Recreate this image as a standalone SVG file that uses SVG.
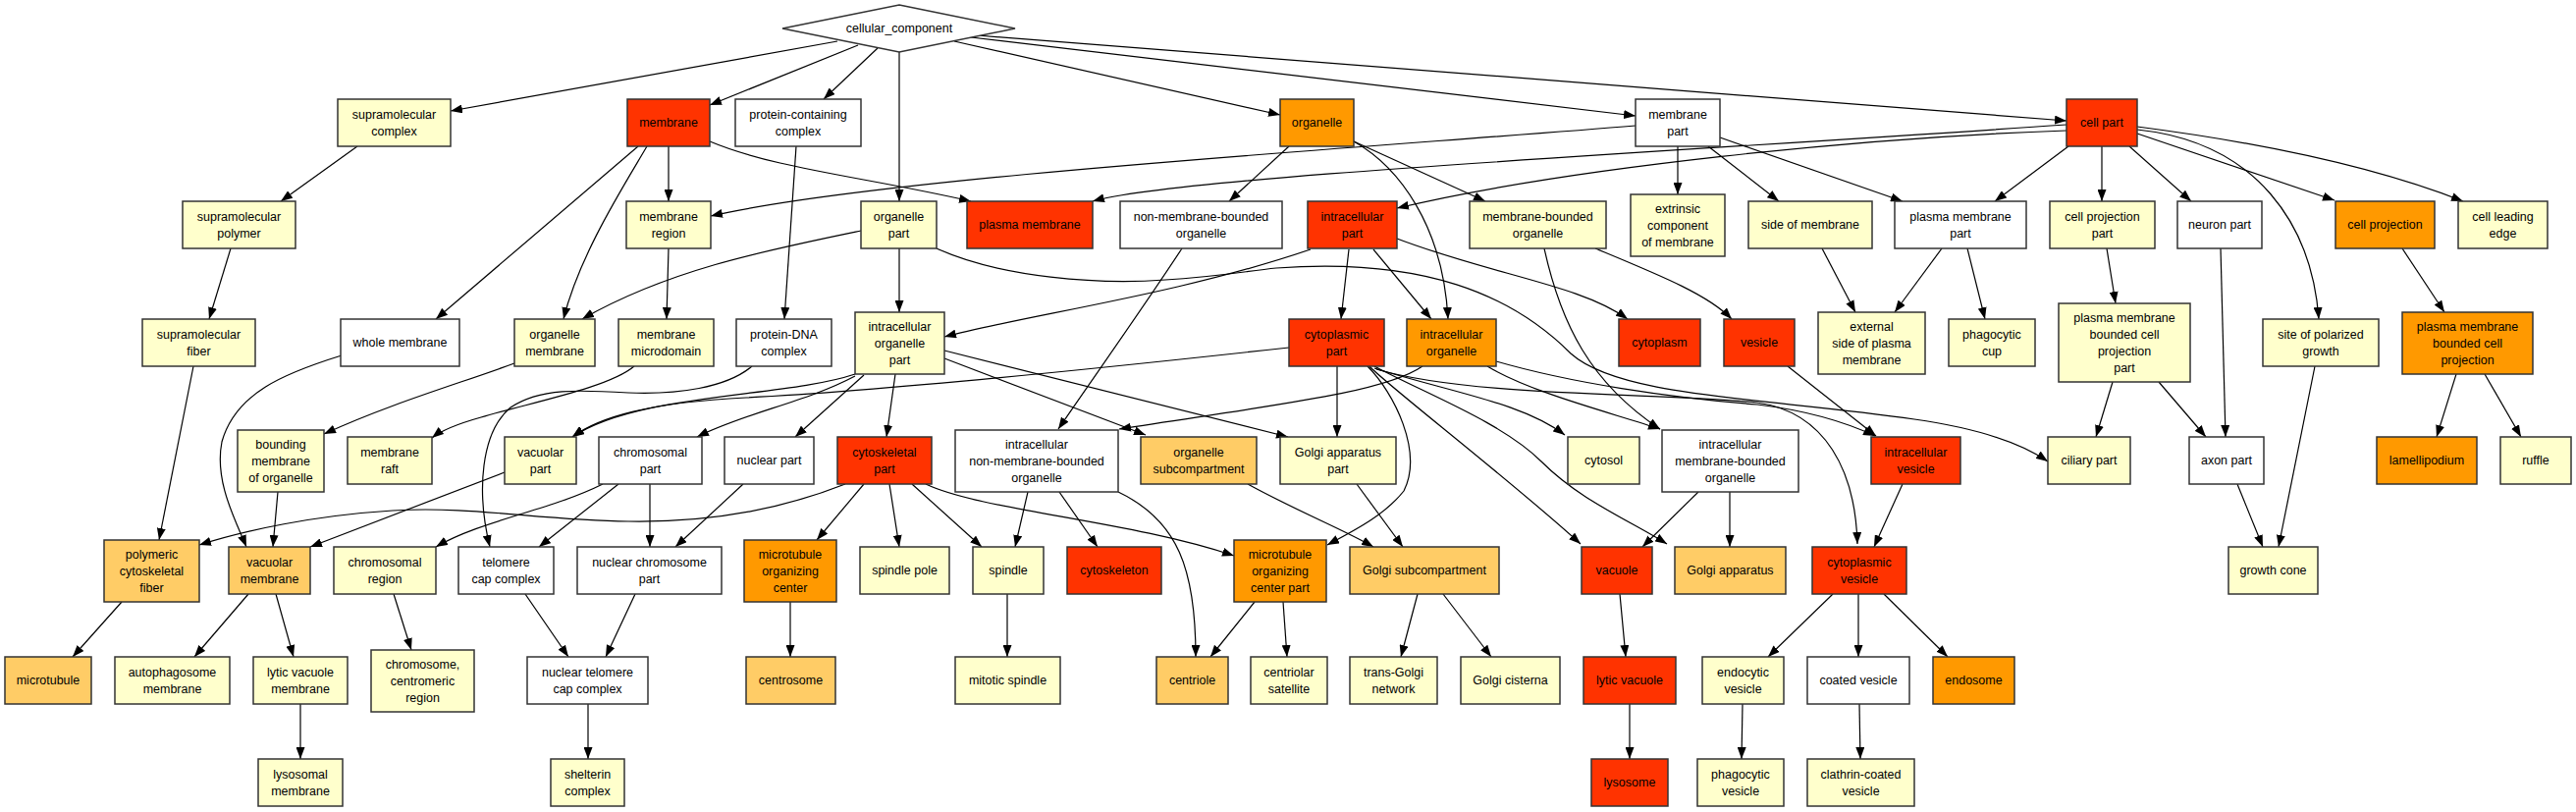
<svg xmlns="http://www.w3.org/2000/svg" width="2624" height="827" viewBox="0 0 2624 827">
<style>
.e path{fill:none;stroke:#000;stroke-width:1.2;marker-end:url(#a)}
.n rect,.n polygon{stroke:#333;stroke-width:1.5}
.r{fill:#FF3300}.o{fill:#FF9900}.lo{fill:#FFCC66}.y{fill:#FFFFCC}.w{fill:#FFFFFF}
text{font-family:"Liberation Sans",Arial,Helvetica,sans-serif;font-size:12.5px;text-anchor:middle;fill:#000}
</style>
<defs>
<marker id="a" markerWidth="13" markerHeight="9" refX="12" refY="4.5" orient="auto" markerUnits="userSpaceOnUse"><path d="M0,0 L12,4.5 L0,9 z" fill="#000"/></marker>
</defs>
<g id="edges" class="e">
<path d="M853,42 L459,113"/>
<path d="M874,46 L723,107"/>
<path d="M894,49 L839,101"/>
<path d="M916,53 L916,205"/>
<path d="M972,42 L1304,117"/>
<path d="M989,38 L1666,118"/>
<path d="M995,36 L2105,123"/>
<path d="M364,149 L286,205"/>
<path d="M235,253 L213,325"/>
<path d="M197,373 L162,550"/>
<path d="M681,149 L681,205"/>
<path d="M650,149 L444,325"/>
<path d="M659,149 C635,190 590,260 574,325"/>
<path d="M723,144 C790,172 880,180 989,205"/>
<path d="M1666,128 C1400,150 900,180 724,220"/>
<path d="M2105,127 C1700,155 1200,180 1113,205"/>
<path d="M2105,133 C1900,140 1600,170 1423,212"/>
<path d="M1709,149 L1709,198"/>
<path d="M1740,149 L1812,205"/>
<path d="M1752,140 L1938,205"/>
<path d="M2107,149 L2032,205"/>
<path d="M2141,149 L2141,205"/>
<path d="M2169,149 L2232,205"/>
<path d="M2177,136 L2378,204"/>
<path d="M2177,129 C2300,145 2420,170 2509,205"/>
<path d="M2177,132 C2300,145 2355,230 2362,325"/>
<path d="M1313,149 L1252,205"/>
<path d="M1379,144 L1513,205"/>
<path d="M1379,144 C1425,170 1470,230 1475,325"/>
<path d="M1335,254 C1200,300 1050,320 962,343"/>
<path d="M1374,254 L1366,325"/>
<path d="M1399,254 L1458,325"/>
<path d="M1423,243 C1520,280 1610,290 1658,325"/>
<path d="M1625,253 C1690,280 1740,300 1764,325"/>
<path d="M1573,253 C1590,330 1620,390 1691,437"/>
<path d="M1856,253 L1890,318"/>
<path d="M1978,253 L1930,318"/>
<path d="M2004,253 L2022,325"/>
<path d="M2146,253 L2155,309"/>
<path d="M2447,253 L2490,318"/>
<path d="M2152,389 L2135,445"/>
<path d="M2199,389 L2247,445"/>
<path d="M2262,253 L2267,445"/>
<path d="M2358,373 L2321,557"/>
<path d="M2279,493 L2305,557"/>
<path d="M2502,381 L2482,445"/>
<path d="M2531,381 L2568,445"/>
<path d="M954,253 C1020,283 1120,290 1187,285 C1240,282 1270,276 1300,273 C1450,262 1540,300 1600,360 C1650,405 1800,405 1950,427 C2020,437 2060,452 2086,470"/>
<path d="M877,235 C780,255 680,275 593,325"/>
<path d="M916,253 L916,318"/>
<path d="M811,149 L799,325"/>
<path d="M681,253 L679,325"/>
<path d="M871,381 C800,405 650,400 583,445"/>
<path d="M1313,354 C1150,372 900,398 760,405 C660,410 610,425 583,445"/>
<path d="M871,383 C820,410 760,420 710,445"/>
<path d="M880,382 L810,445"/>
<path d="M912,381 L903,445"/>
<path d="M962,365 L1167,443"/>
<path d="M962,357 L1312,445"/>
<path d="M1204,253 C1160,320 1110,390 1078,437"/>
<path d="M1449,373 C1410,400 1300,412 1140,437"/>
<path d="M1515,373 C1560,400 1640,420 1691,437"/>
<path d="M1524,368 C1600,390 1700,405 1790,412 C1840,418 1880,430 1910,444"/>
<path d="M1821,373 L1911,444"/>
<path d="M1362,373 L1362,445"/>
<path d="M1400,375 C1480,400 1550,410 1594,443"/>
<path d="M1395,373 C1410,390 1540,490 1610,554"/>
<path d="M1400,373 C1450,400 1530,430 1570,470 C1610,510 1660,530 1698,554"/>
<path d="M1393,373 C1420,400 1450,460 1430,500 C1410,525 1380,540 1352,555"/>
<path d="M1402,376 C1500,405 1700,400 1790,410 C1860,420 1890,480 1892,554"/>
<path d="M1271,493 C1320,520 1370,540 1399,557"/>
<path d="M1382,493 L1429,557"/>
<path d="M1444,605 L1427,669"/>
<path d="M1470,605 L1519,669"/>
<path d="M1730,501 L1673,557"/>
<path d="M1762,501 L1762,557"/>
<path d="M1938,493 L1909,557"/>
<path d="M1867,605 L1801,669"/>
<path d="M1893,605 L1893,669"/>
<path d="M1919,605 L1984,669"/>
<path d="M1775,717 L1774,773"/>
<path d="M1894,717 L1895,773"/>
<path d="M1650,605 L1656,669"/>
<path d="M1660,717 L1660,773"/>
<path d="M1307,613 L1311,669"/>
<path d="M1278,613 L1233,669"/>
<path d="M1139,501 C1200,530 1218,580 1218,669"/>
<path d="M1047,501 L1034,557"/>
<path d="M1079,501 L1118,557"/>
<path d="M880,493 L832,550"/>
<path d="M906,493 L916,557"/>
<path d="M929,493 L1000,557"/>
<path d="M943,493 C1000,520 1150,530 1257,566"/>
<path d="M861,493 C780,525 700,532 640,531 C550,530 480,515 400,520 C320,525 250,540 203,555"/>
<path d="M805,613 L805,669"/>
<path d="M1026,605 L1026,669"/>
<path d="M614,493 C560,520 490,530 444,557"/>
<path d="M630,493 L549,557"/>
<path d="M662,493 L662,557"/>
<path d="M757,493 L688,557"/>
<path d="M514,481 L316,557"/>
<path d="M283,501 L278,557"/>
<path d="M348,362 C290,380 240,400 226,450 C218,490 240,530 251,557"/>
<path d="M524,370 C470,390 400,410 330,442"/>
<path d="M646,373 C620,395 540,410 490,425 C465,432 450,438 440,446"/>
<path d="M766,373 C740,395 690,402 640,400 C590,397 550,395 520,415 C490,440 485,500 499,557"/>
<path d="M401,605 L419,662"/>
<path d="M535,605 L579,669"/>
<path d="M647,605 L617,669"/>
<path d="M599,717 L599,773"/>
<path d="M124,613 L74,669"/>
<path d="M253,605 L198,669"/>
<path d="M281,605 L299,669"/>
<path d="M306,717 L306,773"/>
</g>
<g class="n">
<g id="cellular_component"><polygon class="w" points="916,5 1034,29 916,53 797,29"/><text x="916" y="33.3">cellular_component</text></g>
<g id="supramolecular_complex"><rect class="y" x="344" y="101" width="115" height="48"/><text><tspan x="401.5" y="120.8">supramolecular</tspan><tspan x="401.5" y="137.8">complex</tspan></text></g>
<g id="membrane"><rect class="r" x="639" y="101" width="84" height="48"/><text x="681" y="129.3">membrane</text></g>
<g id="protein_containing_complex"><rect class="w" x="749" y="101" width="128" height="48"/><text><tspan x="813" y="120.8">protein-containing</tspan><tspan x="813" y="137.8">complex</tspan></text></g>
<g id="organelle"><rect class="o" x="1304" y="101" width="75" height="48"/><text x="1341.5" y="129.3">organelle</text></g>
<g id="membrane_part"><rect class="w" x="1666" y="101" width="86" height="48"/><text><tspan x="1709" y="120.8">membrane</tspan><tspan x="1709" y="137.8">part</tspan></text></g>
<g id="cell_part"><rect class="r" x="2105" y="101" width="72" height="48"/><text x="2141" y="129.3">cell part</text></g>
<g id="supramolecular_polymer"><rect class="y" x="186" y="205" width="115" height="48"/><text><tspan x="243.5" y="224.8">supramolecular</tspan><tspan x="243.5" y="241.8">polymer</tspan></text></g>
<g id="membrane_region"><rect class="y" x="638" y="205" width="86" height="48"/><text><tspan x="681" y="224.8">membrane</tspan><tspan x="681" y="241.8">region</tspan></text></g>
<g id="organelle_part"><rect class="y" x="877" y="205" width="77" height="48"/><text><tspan x="915.5" y="224.8">organelle</tspan><tspan x="915.5" y="241.8">part</tspan></text></g>
<g id="plasma_membrane"><rect class="r" x="985" y="205" width="128" height="48"/><text x="1049" y="233.3">plasma membrane</text></g>
<g id="non_membrane_bounded_organelle"><rect class="w" x="1141" y="205" width="165" height="48"/><text><tspan x="1223.5" y="224.8">non-membrane-bounded</tspan><tspan x="1223.5" y="241.8">organelle</tspan></text></g>
<g id="intracellular_part"><rect class="r" x="1332" y="205" width="91" height="48"/><text><tspan x="1377.5" y="224.8">intracellular</tspan><tspan x="1377.5" y="241.8">part</tspan></text></g>
<g id="membrane_bounded_organelle"><rect class="y" x="1497" y="205" width="139" height="48"/><text><tspan x="1566.5" y="224.8">membrane-bounded</tspan><tspan x="1566.5" y="241.8">organelle</tspan></text></g>
<g id="extrinsic_component_of_membrane"><rect class="y" x="1661" y="198" width="96" height="63"/><text><tspan x="1709" y="216.8">extrinsic</tspan><tspan x="1709" y="233.8">component</tspan><tspan x="1709" y="250.8">of membrane</tspan></text></g>
<g id="side_of_membrane"><rect class="y" x="1781" y="205" width="126" height="48"/><text x="1844" y="233.3">side of membrane</text></g>
<g id="plasma_membrane_part"><rect class="w" x="1930" y="205" width="134" height="48"/><text><tspan x="1997" y="224.8">plasma membrane</tspan><tspan x="1997" y="241.8">part</tspan></text></g>
<g id="cell_projection_part"><rect class="y" x="2088" y="205" width="107" height="48"/><text><tspan x="2141.5" y="224.8">cell projection</tspan><tspan x="2141.5" y="241.8">part</tspan></text></g>
<g id="neuron_part"><rect class="w" x="2218" y="205" width="86" height="48"/><text x="2261" y="233.3">neuron part</text></g>
<g id="cell_projection"><rect class="o" x="2379" y="205" width="101" height="48"/><text x="2429.5" y="233.3">cell projection</text></g>
<g id="cell_leading_edge"><rect class="y" x="2504" y="205" width="91" height="48"/><text><tspan x="2549.5" y="224.8">cell leading</tspan><tspan x="2549.5" y="241.8">edge</tspan></text></g>
<g id="supramolecular_fiber"><rect class="y" x="145" y="325" width="115" height="48"/><text><tspan x="202.5" y="344.8">supramolecular</tspan><tspan x="202.5" y="361.8">fiber</tspan></text></g>
<g id="whole_membrane"><rect class="w" x="347" y="325" width="121" height="48"/><text x="407.5" y="353.3">whole membrane</text></g>
<g id="organelle_membrane"><rect class="y" x="524" y="325" width="82" height="48"/><text><tspan x="565" y="344.8">organelle</tspan><tspan x="565" y="361.8">membrane</tspan></text></g>
<g id="membrane_microdomain"><rect class="y" x="630" y="325" width="97" height="48"/><text><tspan x="678.5" y="344.8">membrane</tspan><tspan x="678.5" y="361.8">microdomain</tspan></text></g>
<g id="protein_DNA_complex"><rect class="w" x="750" y="325" width="97" height="48"/><text><tspan x="798.5" y="344.8">protein-DNA</tspan><tspan x="798.5" y="361.8">complex</tspan></text></g>
<g id="intracellular_organelle_part"><rect class="y" x="871" y="318" width="91" height="63"/><text><tspan x="916.5" y="336.8">intracellular</tspan><tspan x="916.5" y="353.8">organelle</tspan><tspan x="916.5" y="370.8">part</tspan></text></g>
<g id="cytoplasmic_part"><rect class="r" x="1313" y="325" width="97" height="48"/><text><tspan x="1361.5" y="344.8">cytoplasmic</tspan><tspan x="1361.5" y="361.8">part</tspan></text></g>
<g id="intracellular_organelle"><rect class="o" x="1433" y="325" width="91" height="48"/><text><tspan x="1478.5" y="344.8">intracellular</tspan><tspan x="1478.5" y="361.8">organelle</tspan></text></g>
<g id="cytoplasm"><rect class="r" x="1649" y="325" width="83" height="48"/><text x="1690.5" y="353.3">cytoplasm</text></g>
<g id="vesicle"><rect class="r" x="1756" y="325" width="72" height="48"/><text x="1792" y="353.3">vesicle</text></g>
<g id="external_side_of_plasma_membrane"><rect class="y" x="1852" y="318" width="109" height="63"/><text><tspan x="1906.5" y="336.8">external</tspan><tspan x="1906.5" y="353.8">side of plasma</tspan><tspan x="1906.5" y="370.8">membrane</tspan></text></g>
<g id="phagocytic_cup"><rect class="y" x="1985" y="325" width="88" height="48"/><text><tspan x="2029" y="344.8">phagocytic</tspan><tspan x="2029" y="361.8">cup</tspan></text></g>
<g id="plasma_membrane_bounded_cell_projection_part"><rect class="y" x="2097" y="309" width="134" height="80"/><text><tspan x="2164" y="327.8">plasma membrane</tspan><tspan x="2164" y="344.8">bounded cell</tspan><tspan x="2164" y="361.8">projection</tspan><tspan x="2164" y="378.8">part</tspan></text></g>
<g id="site_of_polarized_growth"><rect class="y" x="2305" y="325" width="118" height="48"/><text><tspan x="2364" y="344.8">site of polarized</tspan><tspan x="2364" y="361.8">growth</tspan></text></g>
<g id="plasma_membrane_bounded_cell_projection"><rect class="o" x="2447" y="318" width="133" height="63"/><text><tspan x="2513.5" y="336.8">plasma membrane</tspan><tspan x="2513.5" y="353.8">bounded cell</tspan><tspan x="2513.5" y="370.8">projection</tspan></text></g>
<g id="bounding_membrane_of_organelle"><rect class="y" x="242" y="438" width="88" height="63"/><text><tspan x="286" y="456.8">bounding</tspan><tspan x="286" y="473.8">membrane</tspan><tspan x="286" y="490.8">of organelle</tspan></text></g>
<g id="membrane_raft"><rect class="y" x="354" y="445" width="86" height="48"/><text><tspan x="397" y="464.8">membrane</tspan><tspan x="397" y="481.8">raft</tspan></text></g>
<g id="vacuolar_part"><rect class="y" x="514" y="445" width="73" height="48"/><text><tspan x="550.5" y="464.8">vacuolar</tspan><tspan x="550.5" y="481.8">part</tspan></text></g>
<g id="chromosomal_part"><rect class="w" x="610" y="445" width="105" height="48"/><text><tspan x="662.5" y="464.8">chromosomal</tspan><tspan x="662.5" y="481.8">part</tspan></text></g>
<g id="nuclear_part"><rect class="w" x="738" y="445" width="91" height="48"/><text x="783.5" y="473.3">nuclear part</text></g>
<g id="cytoskeletal_part"><rect class="r" x="853" y="445" width="96" height="48"/><text><tspan x="901" y="464.8">cytoskeletal</tspan><tspan x="901" y="481.8">part</tspan></text></g>
<g id="intracellular_non_membrane_bounded_organelle"><rect class="w" x="973" y="438" width="166" height="63"/><text><tspan x="1056" y="456.8">intracellular</tspan><tspan x="1056" y="473.8">non-membrane-bounded</tspan><tspan x="1056" y="490.8">organelle</tspan></text></g>
<g id="organelle_subcompartment"><rect class="lo" x="1162" y="445" width="118" height="48"/><text><tspan x="1221" y="464.8">organelle</tspan><tspan x="1221" y="481.8">subcompartment</tspan></text></g>
<g id="Golgi_apparatus_part"><rect class="y" x="1304" y="445" width="118" height="48"/><text><tspan x="1363" y="464.8">Golgi apparatus</tspan><tspan x="1363" y="481.8">part</tspan></text></g>
<g id="cytosol"><rect class="y" x="1597" y="445" width="73" height="48"/><text x="1633.5" y="473.3">cytosol</text></g>
<g id="intracellular_membrane_bounded_organelle"><rect class="w" x="1693" y="438" width="139" height="63"/><text><tspan x="1762.5" y="456.8">intracellular</tspan><tspan x="1762.5" y="473.8">membrane-bounded</tspan><tspan x="1762.5" y="490.8">organelle</tspan></text></g>
<g id="intracellular_vesicle"><rect class="r" x="1906" y="445" width="91" height="48"/><text><tspan x="1951.5" y="464.8">intracellular</tspan><tspan x="1951.5" y="481.8">vesicle</tspan></text></g>
<g id="ciliary_part"><rect class="y" x="2086" y="445" width="84" height="48"/><text x="2128" y="473.3">ciliary part</text></g>
<g id="axon_part"><rect class="w" x="2230" y="445" width="76" height="48"/><text x="2268" y="473.3">axon part</text></g>
<g id="lamellipodium"><rect class="o" x="2421" y="445" width="102" height="48"/><text x="2472" y="473.3">lamellipodium</text></g>
<g id="ruffle"><rect class="y" x="2547" y="445" width="72" height="48"/><text x="2583" y="473.3">ruffle</text></g>
<g id="polymeric_cytoskeletal_fiber"><rect class="lo" x="106" y="550" width="97" height="63"/><text><tspan x="154.5" y="568.8">polymeric</tspan><tspan x="154.5" y="585.8">cytoskeletal</tspan><tspan x="154.5" y="602.8">fiber</tspan></text></g>
<g id="vacuolar_membrane"><rect class="lo" x="233" y="557" width="83" height="48"/><text><tspan x="274.5" y="576.8">vacuolar</tspan><tspan x="274.5" y="593.8">membrane</tspan></text></g>
<g id="chromosomal_region"><rect class="y" x="340" y="557" width="104" height="48"/><text><tspan x="392" y="576.8">chromosomal</tspan><tspan x="392" y="593.8">region</tspan></text></g>
<g id="telomere_cap_complex"><rect class="w" x="467" y="557" width="97" height="48"/><text><tspan x="515.5" y="576.8">telomere</tspan><tspan x="515.5" y="593.8">cap complex</tspan></text></g>
<g id="nuclear_chromosome_part"><rect class="w" x="588" y="557" width="147" height="48"/><text><tspan x="661.5" y="576.8">nuclear chromosome</tspan><tspan x="661.5" y="593.8">part</tspan></text></g>
<g id="microtubule_organizing_center"><rect class="o" x="758" y="550" width="94" height="63"/><text><tspan x="805" y="568.8">microtubule</tspan><tspan x="805" y="585.8">organizing</tspan><tspan x="805" y="602.8">center</tspan></text></g>
<g id="spindle_pole"><rect class="y" x="876" y="557" width="91" height="48"/><text x="921.5" y="585.3">spindle pole</text></g>
<g id="spindle"><rect class="y" x="991" y="557" width="72" height="48"/><text x="1027" y="585.3">spindle</text></g>
<g id="cytoskeleton"><rect class="r" x="1087" y="557" width="96" height="48"/><text x="1135" y="585.3">cytoskeleton</text></g>
<g id="microtubule_organizing_center_part"><rect class="o" x="1257" y="550" width="94" height="63"/><text><tspan x="1304" y="568.8">microtubule</tspan><tspan x="1304" y="585.8">organizing</tspan><tspan x="1304" y="602.8">center part</tspan></text></g>
<g id="Golgi_subcompartment"><rect class="lo" x="1375" y="557" width="152" height="48"/><text x="1451" y="585.3">Golgi subcompartment</text></g>
<g id="vacuole"><rect class="r" x="1611" y="557" width="72" height="48"/><text x="1647" y="585.3">vacuole</text></g>
<g id="Golgi_apparatus"><rect class="lo" x="1706" y="557" width="113" height="48"/><text x="1762.5" y="585.3">Golgi apparatus</text></g>
<g id="cytoplasmic_vesicle"><rect class="r" x="1846" y="557" width="96" height="48"/><text><tspan x="1894" y="576.8">cytoplasmic</tspan><tspan x="1894" y="593.8">vesicle</tspan></text></g>
<g id="growth_cone"><rect class="y" x="2270" y="557" width="91" height="48"/><text x="2315.5" y="585.3">growth cone</text></g>
<g id="microtubule"><rect class="lo" x="5" y="669" width="88" height="48"/><text x="49" y="697.3">microtubule</text></g>
<g id="autophagosome_membrane"><rect class="y" x="117" y="669" width="117" height="48"/><text><tspan x="175.5" y="688.8">autophagosome</tspan><tspan x="175.5" y="705.8">membrane</tspan></text></g>
<g id="lytic_vacuole_membrane"><rect class="y" x="258" y="669" width="96" height="48"/><text><tspan x="306" y="688.8">lytic vacuole</tspan><tspan x="306" y="705.8">membrane</tspan></text></g>
<g id="chromosome_centromeric_region"><rect class="y" x="378" y="662" width="105" height="63"/><text><tspan x="430.5" y="680.8">chromosome,</tspan><tspan x="430.5" y="697.8">centromeric</tspan><tspan x="430.5" y="714.8">region</tspan></text></g>
<g id="nuclear_telomere_cap_complex"><rect class="w" x="537" y="669" width="123" height="48"/><text><tspan x="598.5" y="688.8">nuclear telomere</tspan><tspan x="598.5" y="705.8">cap complex</tspan></text></g>
<g id="centrosome"><rect class="lo" x="760" y="669" width="91" height="48"/><text x="805.5" y="697.3">centrosome</text></g>
<g id="mitotic_spindle"><rect class="y" x="973" y="669" width="107" height="48"/><text x="1026.5" y="697.3">mitotic spindle</text></g>
<g id="centriole"><rect class="lo" x="1178" y="669" width="73" height="48"/><text x="1214.5" y="697.3">centriole</text></g>
<g id="centriolar_satellite"><rect class="y" x="1274" y="669" width="78" height="48"/><text><tspan x="1313" y="688.8">centriolar</tspan><tspan x="1313" y="705.8">satellite</tspan></text></g>
<g id="trans_Golgi_network"><rect class="y" x="1375" y="669" width="89" height="48"/><text><tspan x="1419.5" y="688.8">trans-Golgi</tspan><tspan x="1419.5" y="705.8">network</tspan></text></g>
<g id="Golgi_cisterna"><rect class="y" x="1488" y="669" width="101" height="48"/><text x="1538.5" y="697.3">Golgi cisterna</text></g>
<g id="lytic_vacuole"><rect class="r" x="1613" y="669" width="94" height="48"/><text x="1660" y="697.3">lytic vacuole</text></g>
<g id="endocytic_vesicle"><rect class="y" x="1734" y="669" width="83" height="48"/><text><tspan x="1775.5" y="688.8">endocytic</tspan><tspan x="1775.5" y="705.8">vesicle</tspan></text></g>
<g id="coated_vesicle"><rect class="w" x="1841" y="669" width="104" height="48"/><text x="1893" y="697.3">coated vesicle</text></g>
<g id="endosome"><rect class="o" x="1969" y="669" width="83" height="48"/><text x="2010.5" y="697.3">endosome</text></g>
<g id="lysosomal_membrane"><rect class="y" x="263" y="773" width="86" height="48"/><text><tspan x="306" y="792.8">lysosomal</tspan><tspan x="306" y="809.8">membrane</tspan></text></g>
<g id="shelterin_complex"><rect class="y" x="561" y="773" width="75" height="48"/><text><tspan x="598.5" y="792.8">shelterin</tspan><tspan x="598.5" y="809.8">complex</tspan></text></g>
<g id="lysosome"><rect class="r" x="1621" y="773" width="78" height="48"/><text x="1660" y="801.3">lysosome</text></g>
<g id="phagocytic_vesicle"><rect class="y" x="1729" y="773" width="88" height="48"/><text><tspan x="1773" y="792.8">phagocytic</tspan><tspan x="1773" y="809.8">vesicle</tspan></text></g>
<g id="clathrin_coated_vesicle"><rect class="y" x="1841" y="773" width="109" height="48"/><text><tspan x="1895.5" y="792.8">clathrin-coated</tspan><tspan x="1895.5" y="809.8">vesicle</tspan></text></g>
</g>
</svg>
